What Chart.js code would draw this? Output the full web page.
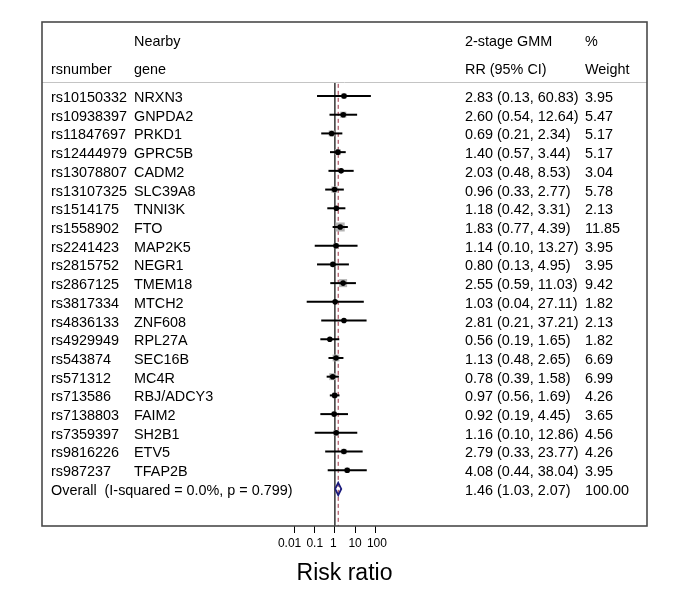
<!DOCTYPE html>
<html><head><meta charset="utf-8">
<script src="https://cdn.jsdelivr.net/npm/chart.js@4.4.0/dist/chart.umd.min.js"></script>
<style>html,body{margin:0;padding:0;background:#fff}#wrap{width:683px;height:612px;position:relative}</style>
</head><body><div id="wrap"><canvas id="c"></canvas></div>
<script>
// ---- data ----
const rsNumbers = ['rs10150332','rs10938397','rs11847697','rs12444979','rs13078807','rs13107325','rs1514175','rs1558902','rs2241423','rs2815752','rs2867125','rs3817334','rs4836133','rs4929949','rs543874','rs571312','rs713586','rs7138803','rs7359397','rs9816226','rs987237'];
const genes = ['NRXN3','GNPDA2','PRKD1','GPRC5B','CADM2','SLC39A8','TNNI3K','FTO','MAP2K5','NEGR1','TMEM18','MTCH2','ZNF608','RPL27A','SEC16B','MC4R','RBJ/ADCY3','FAIM2','SH2B1','ETV5','TFAP2B'];
const rr = [2.83,2.60,0.69,1.40,2.03,0.96,1.18,1.83,1.14,0.80,2.55,1.03,2.81,0.56,1.13,0.78,0.97,0.92,1.16,2.79,4.08];
const lower = [0.13,0.54,0.21,0.57,0.48,0.33,0.42,0.77,0.10,0.13,0.59,0.04,0.21,0.19,0.48,0.39,0.56,0.19,0.10,0.33,0.44];
const upper = [60.83,12.64,2.34,3.44,8.53,2.77,3.31,4.39,13.27,4.95,11.03,27.11,37.21,1.65,2.65,1.58,1.69,4.45,12.86,23.77,38.04];
const weights = [3.95,5.47,5.17,5.17,3.04,5.78,2.13,11.85,3.95,3.95,9.42,1.82,2.13,1.82,6.69,6.99,4.26,3.65,4.56,4.26,3.95];
const overallLabel = 'Overall  (I-squared = 0.0%, p = 0.799)';
const overallRR = 1.46, overallLower = 1.03, overallUpper = 2.07, overallWeight = 100.00;
const headerTop = ['', 'Nearby', '2-stage GMM', '%'];
const headerBottom = ['rsnumber', 'gene', 'RR (95% CI)', 'Weight'];
const tickValues = [0.01, 0.1, 1, 10, 100];
const tickLabels = ['0.01   ', '0.1', '1 ', '10', ' 100'];
const axisTitle = 'Risk ratio';

// ---- layout ----
const FONT = '"Liberation Sans", Arial, Helvetica, sans-serif';
const X_MIN = Math.pow(10, -14.475), X_MAX = Math.pow(10, 15.475);
const Y_MIN = -3.955, Y_MAX = 22.98;
const HEADER_ROW1 = -3.0, HEADER_ROW2 = -1.5, HEADER_LINE = -0.75;
const COL_X = [51, 134, 465, 585];
const nRows = rsNumbers.length;
const overallRow = nRows;

const datasets = [];
// reference line at 1
datasets.push({data:[{x:1,y:HEADER_LINE},{x:1,y:Y_MAX}], showLine:true, borderColor:'#000', borderWidth:1.2, pointRadius:0, order:20});
// overall dashed line
datasets.push({data:[{x:overallRR,y:HEADER_LINE+0.1},{x:overallRR,y:Y_MAX}], showLine:true, borderColor:'#9a2f40', borderWidth:1, borderDash:[4,3], pointRadius:0, order:19});
// weight squares
datasets.push({data:rr.map((v,i)=>({x:v,y:i})), showLine:false, pointStyle:'rect',
  pointRadius:ctx=>1.85*Math.sqrt(weights[ctx.dataIndex]||0), backgroundColor:'#b3b3b3', borderWidth:0, order:10});
// CI lines
for (let i = 0; i < nRows; i++) {
  datasets.push({data:[{x:lower[i],y:i},{x:upper[i],y:i}], showLine:true, borderColor:'#000', borderWidth:2, pointRadius:0, order:5});
}
// point estimates
datasets.push({data:rr.map((v,i)=>({x:v,y:i})), showLine:false, pointStyle:'circle', pointRadius:2.8, backgroundColor:'#000', borderWidth:0, order:1});
// overall diamond
const dh = 0.33;
datasets.push({data:[{x:overallLower,y:overallRow},{x:overallRR,y:overallRow-dh},{x:overallUpper,y:overallRow},{x:overallRR,y:overallRow+dh},{x:overallLower,y:overallRow}],
  showLine:true, borderColor:'#1b1b7d', borderWidth:1.8, pointRadius:0, tension:0, order:1});

const fmt = v => v.toFixed(2);

const tablePlugin = {
  id:'table',
  afterDraw(chart){
    const {ctx, chartArea:a, scales:{y}} = chart;
    ctx.save();
    // header separator
    const hy = Math.round(y.getPixelForValue(HEADER_LINE)) + 0.5;
    ctx.strokeStyle = '#c4c4c4'; ctx.lineWidth = 1;
    ctx.beginPath(); ctx.moveTo(a.left, hy); ctx.lineTo(a.right, hy); ctx.stroke();
    // frame
    ctx.strokeStyle = '#4a4a4a'; ctx.lineWidth = 1.6;
    ctx.strokeRect(a.left, a.top, a.right - a.left, a.bottom - a.top);
    // text
    ctx.font = '14.4px ' + FONT;
    ctx.fillStyle = '#000'; ctx.textAlign = 'left'; ctx.textBaseline = 'middle';
    const ty = v => y.getPixelForValue(v) + 2;
    for (let c = 0; c < 4; c++) {
      if (headerTop[c]) ctx.fillText(headerTop[c], COL_X[c], ty(HEADER_ROW1));
      ctx.fillText(headerBottom[c], COL_X[c], ty(HEADER_ROW2));
    }
    for (let i = 0; i < nRows; i++) {
      const yy = ty(i);
      ctx.fillText(rsNumbers[i], COL_X[0], yy);
      ctx.fillText(genes[i], COL_X[1], yy);
      ctx.fillText(fmt(rr[i]) + ' (' + fmt(lower[i]) + ', ' + fmt(upper[i]) + ')', COL_X[2], yy);
      ctx.fillText(fmt(weights[i]), COL_X[3], yy);
    }
    const oy = ty(overallRow);
    ctx.fillText(overallLabel, COL_X[0], oy);
    ctx.fillText(fmt(overallRR) + ' (' + fmt(overallLower) + ', ' + fmt(overallUpper) + ')', COL_X[2], oy);
    ctx.fillText(fmt(overallWeight), COL_X[3], oy);
    ctx.restore();
  }
};

Chart.defaults.font.family = FONT;
new Chart(document.getElementById('c'), {
  type:'scatter',
  data:{datasets},
  options:{
    responsive:true, maintainAspectRatio:false, animation:false,
    layout:{padding:{left:42, right:36, top:22, bottom:0}},
    plugins:{legend:{display:false}, tooltip:{enabled:false}},
    scales:{
      x:{type:'logarithmic', min:X_MIN, max:X_MAX, position:'bottom',
        afterBuildTicks:s=>{ s.ticks = tickValues.map(v=>({value:v})); },
        afterFit:s=>{ s.height = 86; },
        ticks:{callback:(v,i)=>tickLabels[i], autoSkip:false, maxRotation:0, color:'#000', font:{size:12, family:FONT}, padding:3},
        grid:{drawOnChartArea:false, drawTicks:true, tickLength:7, color:'#000', lineWidth:1},
        border:{display:false},
        title:{display:true, text:axisTitle, color:'#000', font:{size:23, family:FONT}, padding:{top:25, bottom:25}}
      },
      y:{type:'linear', display:false, reverse:true, min:Y_MIN, max:Y_MAX}
    }
  },
  plugins:[tablePlugin]
});
</script>
</body></html>
